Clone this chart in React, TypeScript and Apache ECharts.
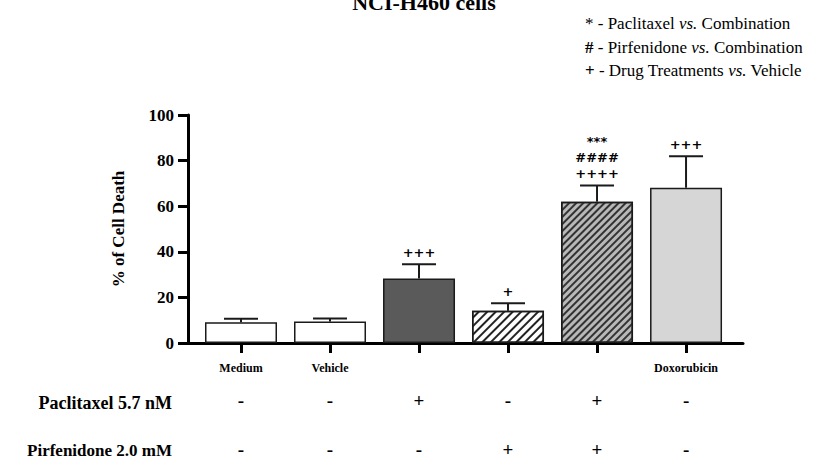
import React, { useEffect, useRef } from "react";
import * as echarts from "echarts";

const categories = ["Medium", "Vehicle", "Paclitaxel", "Pirfenidone", "Combination", "Doxorubicin"];
const axisLabels = ["Medium", "Vehicle", "", "", "", "Doxorubicin"];
const meanValues = [9.1, 9.4, 28.3, 14.1, 62.0, 68.1];
const semValues = [1.5, 1.3, 6.2, 3.3, 7.1, 13.8];
const paclitaxelRow = ["-", "-", "+", "-", "+", "-"];
const pirfenidoneRow = ["-", "-", "-", "+", "+", "-"];
const sigPlus = ["", "", "+++", "+", "++++", "+++"];
const sigHash = ["", "", "", "", "####", ""];
const sigStar = ["", "", "", "", "***", ""];
const yMin = 0;
const yMax = 100;
const yInterval = 20;

const SERIF = "Liberation Serif";
const SANS = "DejaVu Sans";

const barStyles: any[] = [
  { color: "#ffffff" },
  { color: "#ffffff" },
  { color: "#5a5a5a" },
  {
    color: "#ffffff",
    decal: {
      symbol: "rect",
      symbolSize: 1,
      color: "#222222",
      dashArrayX: [1, 0],
      dashArrayY: [1.6, 3.4],
      rotation: -Math.PI / 4,
    },
  },
  {
    color: "#b8b8b8",
    decal: {
      symbol: "rect",
      symbolSize: 1,
      color: "#333333",
      dashArrayX: [1, 0],
      dashArrayY: [2, 2.2],
      rotation: -Math.PI / 4,
    },
  },
  { color: "#d6d6d6" },
];

const legendRich = {
  a: { fontFamily: SERIF, fontSize: 17, color: "#000" },
  b: { fontFamily: SERIF, fontSize: 17, fontWeight: "bold", color: "#000" },
  i: { fontFamily: SERIF, fontSize: 17, fontStyle: "italic", color: "#000" },
};

export default function App() {
  const ref = useRef<HTMLDivElement>(null);
  useEffect(() => {
    if (!ref.current) return;
    const chart = echarts.init(ref.current, null, { renderer: "svg" });
    const idx = categories.map((_, i) => i);
    const legendText = (text: string, y: number) => ({
      type: "text",
      x: 585,
      y,
      style: {
        text,
        verticalAlign: "middle",
        fontFamily: SERIF,
        fontSize: 17,
        fill: "#000",
        rich: legendRich,
      },
    });
    const rowTitle = (text: string, y: number, size: number) => ({
      type: "text",
      x: 172,
      y,
      style: {
        text,
        align: "right",
        verticalAlign: "middle",
        fontFamily: SERIF,
        fontWeight: "bold",
        fontSize: size,
        fill: "#000",
      },
    });
    const option: any = {
      animation: false,
      backgroundColor: "#ffffff",
      textStyle: { fontFamily: SERIF },
      grid: { left: 188, right: 75, top: 115, bottom: 114, containLabel: false },
      xAxis: {
        type: "value",
        min: -0.5955,
        max: 5.64,
        splitLine: { show: false },
        axisLine: { show: true, onZero: false, lineStyle: { color: "#000", width: 3 } },
        axisTick: { show: true, customValues: idx, length: 10, lineStyle: { color: "#000", width: 3 } },
        axisLabel: {
          show: true,
          customValues: idx,
          margin: 16,
          fontFamily: SERIF,
          formatter: (v: number) => {
            const i = Math.round(v);
            const n = axisLabels[i] || " ";
            return `{n|${n}}\n{s|${paclitaxelRow[i]}}\n{s|${pirfenidoneRow[i]}}`;
          },
          rich: {
            n: { fontFamily: SERIF, fontWeight: "bold", fontSize: 12, lineHeight: 17, color: "#000" },
            s: { fontFamily: SERIF, fontWeight: "bold", fontSize: 19, lineHeight: 49, color: "#000" },
          },
        },
      },
      yAxis: {
        type: "value",
        min: yMin,
        max: yMax,
        interval: yInterval,
        splitLine: { show: false },
        axisLine: { show: true, onZero: false, lineStyle: { color: "#000", width: 3 } },
        axisTick: { show: true, length: 10, lineStyle: { color: "#000", width: 3 } },
        axisLabel: { fontFamily: SERIF, fontWeight: "bold", fontSize: 17, color: "#000", margin: 14 },
        name: "% of Cell Death",
        nameLocation: "middle",
        nameRotate: 90,
        nameGap: 61,
        nameTextStyle: { fontFamily: SERIF, fontWeight: "bold", fontSize: 17, color: "#000" },
      },
      series: [
        {
          type: "bar",
          barWidth: 72,
          z: 2,
          data: meanValues.map((v, i) => ({
            value: [i, v],
            itemStyle: { ...barStyles[i], borderColor: "#1a1a1a", borderWidth: 1.5 },
          })),
        },
        {
          type: "custom",
          z: 3,
          clip: false,
          itemStyle: { color: "#000" },
          encode: { x: 0, y: [1, 2] },
          data: meanValues.map((v, i) => [i, v, v + semValues[i]]),
          renderItem: (params: any, api: any) => {
            const i = api.value(0);
            const m = api.value(1);
            const t = api.value(2);
            const p0 = api.coord([i, m]);
            const p1 = api.coord([i, t]);
            const d = params.dataIndex;
            const lineStyle = { stroke: "#1a1a1a", lineWidth: 2 };
            const children: any[] = [
              { type: "line", shape: { x1: p0[0], y1: p0[1], x2: p1[0], y2: p1[1] }, style: lineStyle },
              { type: "line", shape: { x1: p1[0] - 17, y1: p1[1], x2: p1[0] + 17, y2: p1[1] }, style: lineStyle },
            ];
            const txt = (s: string, dy: number, size: number) => ({
              type: "text",
              x: p1[0],
              y: p1[1] - dy,
              style: {
                text: s,
                align: "center",
                verticalAlign: "middle",
                fontFamily: SANS,
                fontWeight: "bold",
                fontSize: size,
                fill: "#000",
              },
            });
            if (sigPlus[d]) children.push(txt(sigPlus[d], 12, 13));
            if (sigHash[d]) children.push(txt(sigHash[d], 28, 13));
            if (sigStar[d]) children.push(txt(sigStar[d], 44, 13));
            return { type: "group", children };
          },
        },
      ],
      graphic: [
        {
          type: "text",
          x: 424,
          y: 2,
          style: {
            text: "NCI-H460 cells",
            align: "center",
            verticalAlign: "middle",
            fontFamily: SERIF,
            fontWeight: "bold",
            fontSize: 22,
            fill: "#000",
          },
        },
        legendText("{a|* - Paclitaxel }{i|vs.}{a| Combination}", 23),
        legendText("{b|#}{a| - Pirfenidone }{i|vs.}{a| Combination}", 47),
        legendText("{b|+}{a| - Drug Treatments }{i|vs.}{a| Vehicle}", 70),
        rowTitle("Paclitaxel 5.7 nM", 403, 18),
        rowTitle("Pirfenidone 2.0 mM", 450, 17),
      ],
    };
    chart.setOption(option);
    return () => chart.dispose();
  }, []);
  return <div ref={ref} style={{ width: 818, height: 459, position: "absolute", left: 0, top: 0 }} />;
}
